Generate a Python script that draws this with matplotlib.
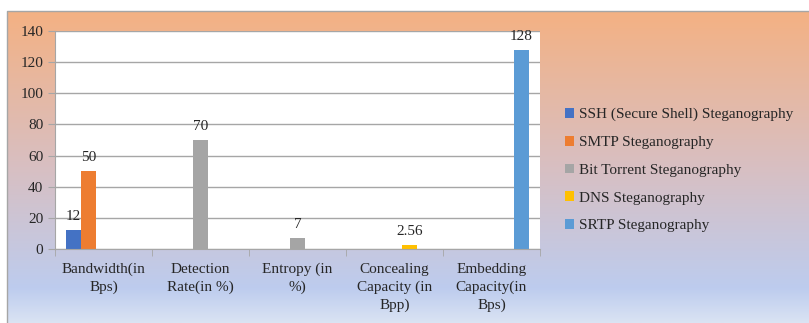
import numpy as np
import matplotlib.pyplot as plt
from matplotlib.colors import LinearSegmentedColormap

plt.rcParams['font.family'] = ['Liberation Serif', 'DejaVu Serif']

categories = ["Bandwidth(in\nBps)", "Detection\nRate(in %)", "Entropy (in\n%)",
              "Concealing\nCapacity (in\nBpp)", "Embedding\nCapacity(in\nBps)"]
series = ["SSH (Secure Shell) Steganography", "SMTP Steganography",
          "Bit Torrent Steganography", "DNS Steganography", "SRTP Steganography"]
ssh = [12, 0, 0, 0, 0]
smtp = [50, 0, 0, 0, 0]
bittorrent = [0, 70, 7, 0, 0]
dns = [0, 0, 0, 2.56, 0]
srtp = [0, 0, 0, 0, 128]
values = [ssh, smtp, bittorrent, dns, srtp]
colors = ['#4472C4', '#ED7D31', '#A5A5A5', '#FFC000', '#5B9BD5']
yticks = [0, 20, 40, 60, 80, 100, 120, 140]

W, H = 809, 323
fig = plt.figure(figsize=(W / 100, H / 100), dpi=100)

# gradient background of the chart area
bg = fig.add_axes([0, 0, 1, 1])
bg.set_xlim(0, W)
bg.set_ylim(H, 0)
bg.axis('off')
cmap = LinearSegmentedColormap.from_list('bg', [(0, '#F4B183'), (0.5, '#D8BFC2'),
                                                (0.89, '#BDCCEE'), (1.0, '#DAE3F3')])
grad = np.linspace(0, 1, 256).reshape(-1, 1)
bg.imshow(grad, cmap=cmap, aspect='auto', extent=[7, W, H, 11], zorder=0)
bg.plot([7, 7, W], [H, 11, 11], color='#A6A6A6', lw=1, zorder=1)

ax = fig.add_axes([55 / W, 1 - 249 / H, 485 / W, 218 / H])
ax.set_facecolor('white')
x = np.arange(len(categories))
bw = 0.155
text_c = '#262626'
for i, (name, vals, c) in enumerate(zip(series, values, colors)):
    bars = ax.bar(x + (i - 2) * bw, vals, bw, color=c, label=name, zorder=2)
    for b, v in zip(bars, vals):
        if v:
            ax.annotate(f'{v:g}', (b.get_x() + b.get_width() / 2, v),
                        xytext=(0, 5), textcoords='offset points',
                        ha='center', va='bottom', fontsize=11, color=text_c)

ax.set_xlim(-0.5, 4.5)
ax.set_ylim(0, 140)
ax.set_yticks(yticks)
ax.grid(axis='y', color='#A6A6A6', lw=1, zorder=1)
for s in ['top', 'right']:
    ax.spines[s].set_visible(False)
for s in ['left', 'bottom']:
    ax.spines[s].set_color('#A6A6A6')
ax.tick_params(axis='y', colors='#A6A6A6', labelcolor=text_c, labelsize=11, length=5)
ax.set_xticks(x)
ax.set_xticklabels(categories, fontsize=11, color=text_c, linespacing=1.45)
ax.set_xticks(np.arange(-0.5, 5, 1), minor=True)
ax.tick_params(axis='x', which='major', length=0, pad=10)
ax.tick_params(axis='x', which='minor', length=5, color='#A6A6A6')

fig.legend(loc='upper left', bbox_to_anchor=(565 / W, 1 - 108 / H), frameon=False,
           fontsize=11, handlelength=0.6, handleheight=0.6, handletextpad=0.3,
           labelspacing=0.95, borderpad=0, borderaxespad=0, labelcolor=text_c)

fig.savefig('out.png', dpi=100)
